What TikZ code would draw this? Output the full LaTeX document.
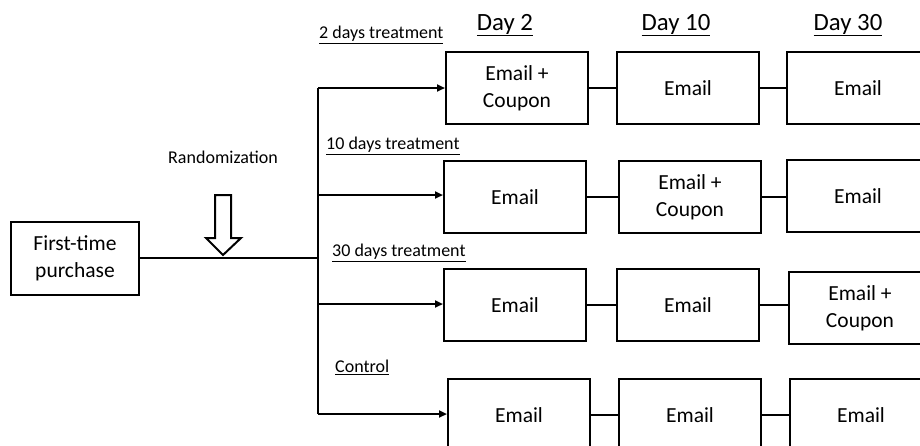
\documentclass[tikz,border=0pt]{standalone}
\usepackage{fontspec}
\setmainfont{Carlito}
\usetikzlibrary{arrows.meta, positioning}

\begin{document}
\begin{tikzpicture}[x=1pt, y=-1pt,
    stepbox/.style={draw, line width=2pt, minimum width=142pt, minimum height=72pt,
      inner sep=0pt, anchor=north west, align=center, font=\fontsize{21.5}{27}\selectfont},
    link/.style={line width=2pt},
    branch/.style={line width=2pt, -{Triangle[length=8pt,width=7pt]}},
    grouplbl/.style={anchor=west, inner sep=0pt, font=\fontsize{18}{20}\selectfont},
    daylbl/.style={inner sep=0pt, font=\fontsize{24.8}{28}\selectfont}]
  \useasboundingbox (0,0) rectangle (920,445);
  \clip (0,0) rectangle (920,445);
  % start
  \node[draw, line width=2pt, minimum width=128pt, minimum height=73pt, inner sep=0pt,
    align=center, font=\fontsize{21.5}{27}\selectfont] (fp) at (75,258) {First-time\\purchase};
  \node[inner sep=0pt, font=\fontsize{18}{20}\selectfont] (rnd) at (223,157) {Randomization};
  \draw[line width=2pt, fill=white] (215,195) -- (231,195) -- (231,238) -- (241,238)
    -- (223,255) -- (206,238) -- (215,238) -- cycle;
  % day headers
  \foreach \x/\d in {505/2, 676/10, 848/30}
    \node[daylbl] (day\d) at (\x,25) {\underline{Day \d}};
  % boxes
  \node[stepbox] (r1c1) at (445,51) {Email +\\Coupon};
  \node[stepbox] (r1c2) at (616,51) {Email};
  \node[stepbox] (r1c3) at (786,51) {Email};
  \node[stepbox] (r2c1) at (443,160) {Email};
  \node[stepbox] (r2c2) at (618,160) {Email +\\Coupon};
  \node[stepbox] (r2c3) at (786,159) {Email};
  \node[stepbox] (r3c1) at (443,268) {Email};
  \node[stepbox] (r3c2) at (616,268) {Email};
  \node[stepbox] (r3c3) at (788,271) {Email +\\Coupon};
  \node[stepbox] (r4c1) at (447,378) {Email};
  \node[stepbox] (r4c2) at (618,378) {Email};
  \node[stepbox] (r4c3) at (789,378) {Email};
  % group labels
  \node[grouplbl] (g1) at (319,35) {\underline{2 days treatment}};
  \node[grouplbl] (g2) at (326,146) {\underline{10 days treatment}};
  \node[grouplbl] (g3) at (332,253) {\underline{30 days treatment}};
  \node[grouplbl] (g4) at (335,367) {\underline{Control}};
  % connectors
  \coordinate (b1) at (318,88);
  \coordinate (b2) at (318,195);
  \coordinate (b3) at (318,304);
  \coordinate (b4) at (318,414);
  \coordinate (split) at (fp.east -| b1);
  \draw[link] (fp.east) -- (split);
  \draw[link] (b1) -- (b4);
  \foreach \r in {1,2,3,4}
  {
    \draw[branch] (b\r) -- (b\r -| r\r c1.west);
    \draw[link] (r\r c1.east) -- (r\r c1.east -| r\r c2.west);
    \draw[link] (r\r c2.east) -- (r\r c2.east -| r\r c3.west);
  }
\end{tikzpicture}
\end{document}
